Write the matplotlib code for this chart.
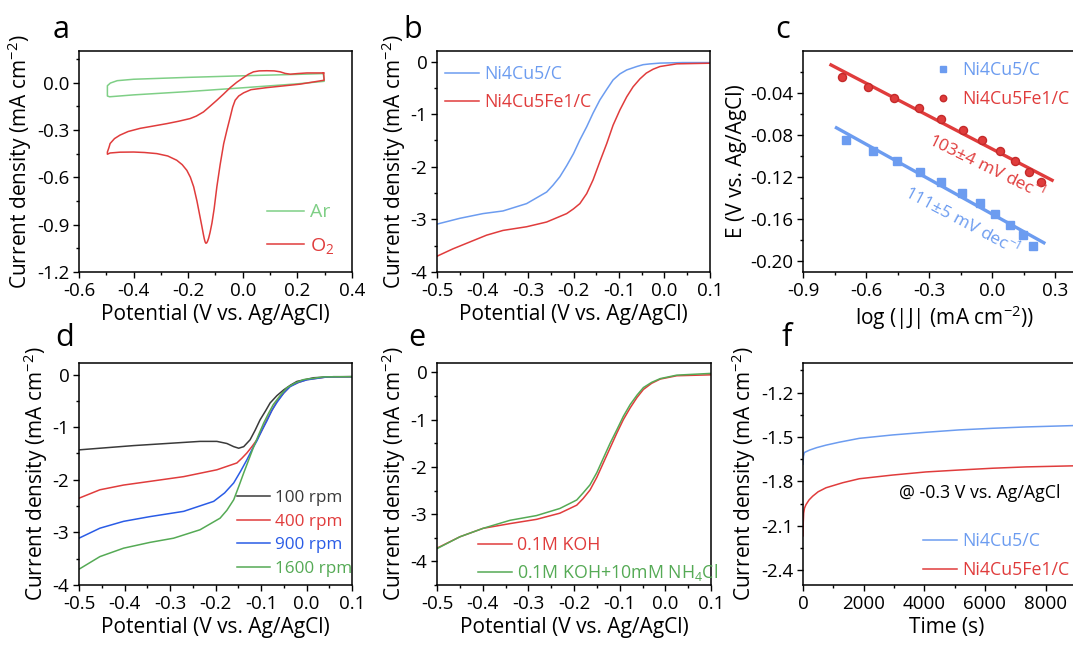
"""Figura ORR: CV, LSV, Tafel, rpm, NH4Cl, stabilita"""

import matplotlib
matplotlib.use("Agg")
from matplotlib import pyplot as plt
from matplotlib.ticker import MultipleLocator, FormatStrFormatter

plt.rcParams["font.family"] = ["Open Sans", "DejaVu Sans"]
plt.rcParams["mathtext.fontset"] = "custom"
plt.rcParams["mathtext.rm"] = "Open Sans"
plt.rcParams["mathtext.it"] = "Open Sans:italic"
plt.rcParams["mathtext.bf"] = "Open Sans:bold"
plt.rcParams["axes.unicode_minus"] = False
plt.rcParams["font.size"] = 13

# Colori
ROSSO = "#e03c3c"
BLU = "#6c9cf0"
VERDE_CHIARO = "#7fcf86"
NERO = "#3a3a3a"
BLU_SCURO = "#2a5ce6"
VERDE = "#55aa55"

# --- a: CV in Ar e O2
ar_x = [0.295, 0.298, 0.2, 0.0, -0.2, -0.4, -0.488, -0.496, -0.496, -0.485, -0.46, -0.4, -0.2, 0.0, 0.2, 0.295]
ar_y = [0.057, 0.008, -0.008, -0.033, -0.057, -0.078, -0.09, -0.085, -0.02, -0.003, 0.012, 0.021, 0.033, 0.043, 0.052, 0.057]

o2_x = [0.296, 0.298, 0.21, 0.088, 0.03, 0.003, -0.015, -0.028, -0.037, -0.046, -0.058, -0.07, -0.083, -0.095,
        -0.105, -0.113, -0.12, -0.125, -0.129, -0.132, -0.135, -0.138, -0.141, -0.144, -0.15, -0.159, -0.168,
        -0.18, -0.192, -0.205, -0.222, -0.242, -0.275, -0.315, -0.36, -0.40, -0.45, -0.486, -0.496,
        -0.496, -0.49, -0.486, -0.47, -0.45, -0.42, -0.376, -0.33, -0.278, -0.235, -0.193, -0.17, -0.144,
        -0.12, -0.095, -0.07, -0.046, -0.022, 0.003, 0.02, 0.039, 0.06, 0.088, 0.115, 0.137, 0.155, 0.174,
        0.2, 0.235, 0.296]
o2_y = [0.061, 0.015, -0.01, -0.032, -0.045, -0.065, -0.085, -0.112, -0.155, -0.218, -0.30, -0.387, -0.52, -0.66,
        -0.80, -0.89, -0.95, -0.985, -1.005, -1.015, -1.018, -1.01, -0.99, -0.965, -0.91, -0.83, -0.75,
        -0.66, -0.60, -0.556, -0.52, -0.492, -0.465, -0.45, -0.443, -0.44, -0.441, -0.446, -0.454,
        -0.44, -0.41, -0.386, -0.355, -0.333, -0.31, -0.29, -0.276, -0.26, -0.245, -0.228, -0.212, -0.186,
        -0.15, -0.112, -0.072, -0.032, 0.002, 0.032, 0.052, 0.068, 0.074, 0.075, 0.074, 0.068, 0.058, 0.053,
        0.057, 0.061, 0.061]

# --- b: LSV a 1600 rpm
b_blu_x = [-0.5, -0.45, -0.399, -0.355, -0.303, -0.259, -0.245, -0.23, -0.215, -0.2, -0.186, -0.171, -0.157,
           -0.142, -0.127, -0.113, -0.098, -0.083, -0.061, -0.047, -0.032, -0.01, 0.04, 0.1]
b_blu_y = [-3.09, -2.98, -2.89, -2.84, -2.70, -2.48, -2.35, -2.19, -1.98, -1.75, -1.49, -1.24, -0.98,
           -0.73, -0.53, -0.35, -0.235, -0.16, -0.095, -0.06, -0.045, -0.03, -0.02, -0.02]
b_rosso_x = [-0.5, -0.465, -0.428, -0.391, -0.355, -0.303, -0.259, -0.215, -0.2, -0.186, -0.171, -0.157, -0.142,
             -0.127, -0.113, -0.098, -0.083, -0.069, -0.054, -0.04, -0.025, -0.01, 0.027, 0.1]
b_rosso_y = [-3.70, -3.56, -3.43, -3.30, -3.21, -3.14, -3.05, -2.89, -2.80, -2.70, -2.51, -2.25, -1.90,
             -1.56, -1.21, -0.92, -0.67, -0.48, -0.33, -0.22, -0.146, -0.095, -0.044, -0.032]

# --- c: Tafel
c_blu_x = [-0.694, -0.569, -0.453, -0.342, -0.242, -0.144, -0.06, 0.015, 0.083, 0.145, 0.194]
c_blu_y = [-0.085, -0.095, -0.105, -0.115, -0.125, -0.135, -0.145, -0.155, -0.165, -0.175, -0.185]
c_rosso_x = [-0.714, -0.591, -0.466, -0.347, -0.242, -0.141, -0.049, 0.035, 0.107, 0.173, 0.229]
c_rosso_y = [-0.025, -0.035, -0.045, -0.055, -0.065, -0.075, -0.085, -0.095, -0.105, -0.115, -0.125]
fit_blu_x = [-0.741, 0.245]
fit_blu_y = [-0.0733, -0.1823]
fit_rosso_x = [-0.767, 0.284]
fit_rosso_y = [-0.0137, -0.123]

# --- d: velocita di rotazione
d_100_x = [-0.498, -0.454, -0.38, -0.307, -0.234, -0.197, -0.175, -0.16, -0.149, -0.138, -0.124, -0.113, -0.102,
           -0.09, -0.08, -0.065, -0.05, -0.035, -0.021, 0.016, 0.06, 0.1]
d_100_y = [-1.43, -1.40, -1.35, -1.31, -1.27, -1.27, -1.31, -1.37, -1.40, -1.37, -1.24, -1.06, -0.86,
           -0.69, -0.54, -0.40, -0.29, -0.20, -0.13, -0.06, -0.04, -0.04]
d_400_x = [-0.5, -0.454, -0.402, -0.344, -0.27, -0.197, -0.153, -0.142, -0.131, -0.12, -0.109, -0.098, -0.087,
           -0.076, -0.065, -0.05, -0.036, -0.018, 0.001, 0.045, 0.1]
d_400_y = [-2.35, -2.19, -2.10, -2.03, -1.94, -1.81, -1.68, -1.59, -1.49, -1.37, -1.24, -1.06, -0.86,
           -0.68, -0.51, -0.35, -0.22, -0.15, -0.095, -0.044, -0.04]
d_900_x = [-0.5, -0.454, -0.402, -0.344, -0.27, -0.204, -0.18, -0.16, -0.145, -0.131, -0.12, -0.109, -0.098,
           -0.087, -0.076, -0.065, -0.05, -0.036, -0.018, 0.001, 0.045, 0.1]
d_900_y = [-3.11, -2.92, -2.79, -2.70, -2.60, -2.41, -2.25, -2.06, -1.84, -1.62, -1.43, -1.26, -1.06,
           -0.88, -0.68, -0.53, -0.35, -0.23, -0.15, -0.10, -0.045, -0.04]
d_1600_x = [-0.5, -0.454, -0.402, -0.344, -0.292, -0.234, -0.19, -0.175, -0.16, -0.149, -0.138, -0.127, -0.116,
            -0.105, -0.094, -0.083, -0.073, -0.058, -0.043, -0.025, -0.006, 0.038, 0.1]
d_1600_y = [-3.70, -3.46, -3.30, -3.19, -3.11, -2.95, -2.73, -2.58, -2.38, -2.13, -1.87, -1.62, -1.37,
            -1.14, -0.92, -0.73, -0.57, -0.40, -0.25, -0.16, -0.095, -0.044, -0.04]

# --- e: effetto NH4Cl
e_koh_x = [-0.5, -0.45, -0.399, -0.34, -0.282, -0.231, -0.194, -0.18, -0.165, -0.15, -0.136, -0.121, -0.106,
           -0.092, -0.077, -0.062, -0.048, -0.03, -0.011, 0.025, 0.1]
e_koh_y = [-3.72, -3.48, -3.30, -3.20, -3.11, -2.98, -2.81, -2.67, -2.49, -2.22, -1.92, -1.60, -1.28,
           -1.00, -0.75, -0.53, -0.36, -0.23, -0.14, -0.07, -0.05]
e_nh4_x = [-0.5, -0.45, -0.399, -0.34, -0.282, -0.231, -0.194, -0.18, -0.165, -0.15, -0.136, -0.121, -0.106,
           -0.092, -0.077, -0.062, -0.048, -0.03, -0.011, 0.025, 0.1]
e_nh4_y = [-3.73, -3.48, -3.30, -3.13, -3.03, -2.88, -2.70, -2.55, -2.38, -2.12, -1.82, -1.50, -1.21,
           -0.93, -0.68, -0.48, -0.32, -0.21, -0.13, -0.057, -0.02]

# --- f: cronoamperometria
f_blu_t = [0, 15, 44, 209, 450, 759, 1200, 1859, 2959, 4059, 5159, 6260, 7360, 8889, 9500]
f_blu_y = [-1.684, -1.63, -1.605, -1.589, -1.572, -1.555, -1.535, -1.509, -1.486, -1.468, -1.452, -1.441,
           -1.432, -1.423, -1.42]
f_rosso_t = [0, 8, 22, 50, 99, 200, 319, 500, 759, 1309, 1859, 2959, 4059, 5159, 6260, 7360, 8889, 9500]
f_rosso_y = [-2.168, -2.08, -2.014, -1.98, -1.957, -1.925, -1.90, -1.87, -1.843, -1.809, -1.782, -1.757,
             -1.736, -1.723, -1.711, -1.702, -1.695, -1.693]

W, H = 1073, 645
LAB = 15
LEG = 12.8


def crea_assi(fig, sinistra, destra, alto, basso):
    """Crea un asse a partire dalle coordinate in pixel"""
    return fig.add_axes([sinistra / W, 1 - basso / H, (destra - sinistra) / W, (basso - alto) / H])


def stile_assi(ax, xmaj, xmin, ymaj, ymin, xfmt, yfmt):
    """Tick e formato comuni"""
    ax.xaxis.set_major_locator(MultipleLocator(xmaj))
    ax.xaxis.set_minor_locator(MultipleLocator(xmin))
    ax.yaxis.set_major_locator(MultipleLocator(ymaj))
    ax.yaxis.set_minor_locator(MultipleLocator(ymin))
    ax.xaxis.set_major_formatter(FormatStrFormatter(xfmt))
    ax.yaxis.set_major_formatter(FormatStrFormatter(yfmt))
    ax.tick_params(which="major", length=4, width=1, direction="out", labelsize=13.5, pad=3)
    ax.tick_params(which="minor", length=2.5, width=1, direction="out")
    for s in ax.spines.values():
        s.set_linewidth(1.1)


def etichette(ax, xlab, ylab):
    ax.set_xlabel(xlab, fontsize=LAB, labelpad=3)
    ax.set_ylabel(ylab, fontsize=LAB, labelpad=2)


def legenda(ax, x, y, spazio=0.35, dim=LEG, **kw):
    ax.legend(loc="upper left", bbox_to_anchor=(x, y), frameon=False, fontsize=dim, handlelength=1.9,
              handletextpad=0.3, borderpad=0, borderaxespad=0, labelspacing=spazio, labelcolor="linecolor", **kw)


fig = plt.figure(figsize=(W / 100, H / 100), dpi=100)
YLAB = "Current density (mA cm$^{-2}$)"
XLAB = "Potential (V vs. Ag/AgCl)"

# a
ax = crea_assi(fig, 79, 352, 51, 272)
ax.plot(ar_x, ar_y, color=VERDE_CHIARO, lw=1.1, label="Ar")
ax.plot(o2_x, o2_y, color=ROSSO, lw=1.1, label="O$_2$")
ax.set_xlim(-0.6, 0.4)
ax.set_ylim(-1.2, 0.2)
stile_assi(ax, 0.2, 0.1, 0.3, 0.15, "%.1f", "%.1f")
etichette(ax, XLAB, YLAB)
legenda(ax, 0.69, 0.31, spazio=0.75, dim=14)
fig.text(61 / W, 1 - 30 / H, "a", fontsize=22, ha="center", va="center")

# b
ax = crea_assi(fig, 437, 710, 51, 272)
ax.plot(b_blu_x, b_blu_y, color=BLU, lw=1.1, label="Ni4Cu5/C")
ax.plot(b_rosso_x, b_rosso_y, color=ROSSO, lw=1.1, label="Ni4Cu5Fe1/C")
ax.set_xlim(-0.5, 0.1)
ax.set_ylim(-4, 0.2)
stile_assi(ax, 0.1, 0.05, 1, 0.5, "%.1f", "%d")
etichette(ax, XLAB, YLAB)
legenda(ax, 0.03, 0.937, spazio=0.57)
fig.text(413 / W, 1 - 30 / H, "b", fontsize=22, ha="center", va="center")

# c
ax = crea_assi(fig, 803, 1087, 51, 272)
ax.plot(fit_blu_x, fit_blu_y, color=BLU, lw=2.4)
ax.plot(fit_rosso_x, fit_rosso_y, color=ROSSO, lw=2.4)
ax.plot(c_blu_x, c_blu_y, "s", color=BLU, ms=5.5, label="Ni4Cu5/C")
ax.plot(c_rosso_x, c_rosso_y, "o", color=ROSSO, mec="#c42a2a", ms=5.8, label="Ni4Cu5Fe1/C")
ax.set_xlim(-0.9, 0.45)
ax.set_ylim(-0.21, -0.0005)
stile_assi(ax, 0.3, 0.15, 0.04, 0.02, "%.1f", "%.2f")
etichette(ax, "log (|J| (mA cm$^{-2}$))", "E (V vs. Ag/AgCl)")
ax.legend(loc="upper left", bbox_to_anchor=(0.46, 0.955), frameon=False, fontsize=LEG, handlelength=1.0,
          handletextpad=0.6, borderpad=0, borderaxespad=0, labelspacing=0.63, labelcolor="linecolor",
          markerscale=0.8)
ax.text(-0.024, -0.110, "103±4 mV dec$^{-1}$", color=ROSSO, fontsize=12.5, rotation=-26,
        ha="center", va="center", rotation_mode="anchor")
ax.text(-0.144, -0.1606, "111±5 mV dec$^{-1}$", color=BLU, fontsize=12.5, rotation=-28,
        ha="center", va="center", rotation_mode="anchor")
fig.text(783 / W, 1 - 30 / H, "c", fontsize=22, ha="center", va="center")

# d
ax = crea_assi(fig, 79, 352, 363, 585)
ax.plot(d_100_x, d_100_y, color=NERO, lw=1.1, label="100 rpm")
ax.plot(d_400_x, d_400_y, color=ROSSO, lw=1.1, label="400 rpm")
ax.plot(d_900_x, d_900_y, color=BLU_SCURO, lw=1.1, label="900 rpm")
ax.plot(d_1600_x, d_1600_y, color=VERDE, lw=1.1, label="1600 rpm")
ax.set_xlim(-0.5, 0.1)
ax.set_ylim(-4, 0.22)
stile_assi(ax, 0.1, 0.05, 1, 0.5, "%.1f", "%d")
etichette(ax, XLAB, YLAB)
legenda(ax, 0.58, 0.427, spazio=0.44, dim=12.3)
fig.text(65 / W, 1 - 338 / H, "d", fontsize=22, ha="center", va="center")

# e
ax = crea_assi(fig, 437, 711, 363, 585)
ax.plot(e_koh_x, e_koh_y, color=ROSSO, lw=1.1, label="0.1M KOH")
ax.plot(e_nh4_x, e_nh4_y, color=VERDE, lw=1.1, label="0.1M KOH+10mM NH$_4$Cl")
ax.set_xlim(-0.5, 0.1)
ax.set_ylim(-4.5, 0.2)
stile_assi(ax, 0.1, 0.05, 1, 0.5, "%.1f", "%d")
etichette(ax, XLAB, YLAB)
legenda(ax, 0.15, 0.22, spazio=0.45)
fig.text(417 / W, 1 - 338 / H, "e", fontsize=22, ha="center", va="center")

# f
ax = crea_assi(fig, 803, 1091, 363, 585)
ax.plot(f_blu_t, f_blu_y, color=BLU, lw=1.1, label="Ni4Cu5/C")
ax.plot(f_rosso_t, f_rosso_y, color=ROSSO, lw=1.1, label="Ni4Cu5Fe1/C")
ax.set_xlim(0, 9500)
ax.set_ylim(-2.5, -1.0)
stile_assi(ax, 2000, 1000, 0.3, 0.15, "%d", "%.1f")
etichette(ax, "Time (s)", YLAB)
ax.text(0.335, 0.414, "@ -0.3 V vs. Ag/AgCl", transform=ax.transAxes, fontsize=12.8, ha="left", va="center")
legenda(ax, 0.417, 0.238, spazio=0.6)
fig.text(787 / W, 1 - 338 / H, "f", fontsize=22, ha="center", va="center")

plt.savefig("out.png", dpi=100)
